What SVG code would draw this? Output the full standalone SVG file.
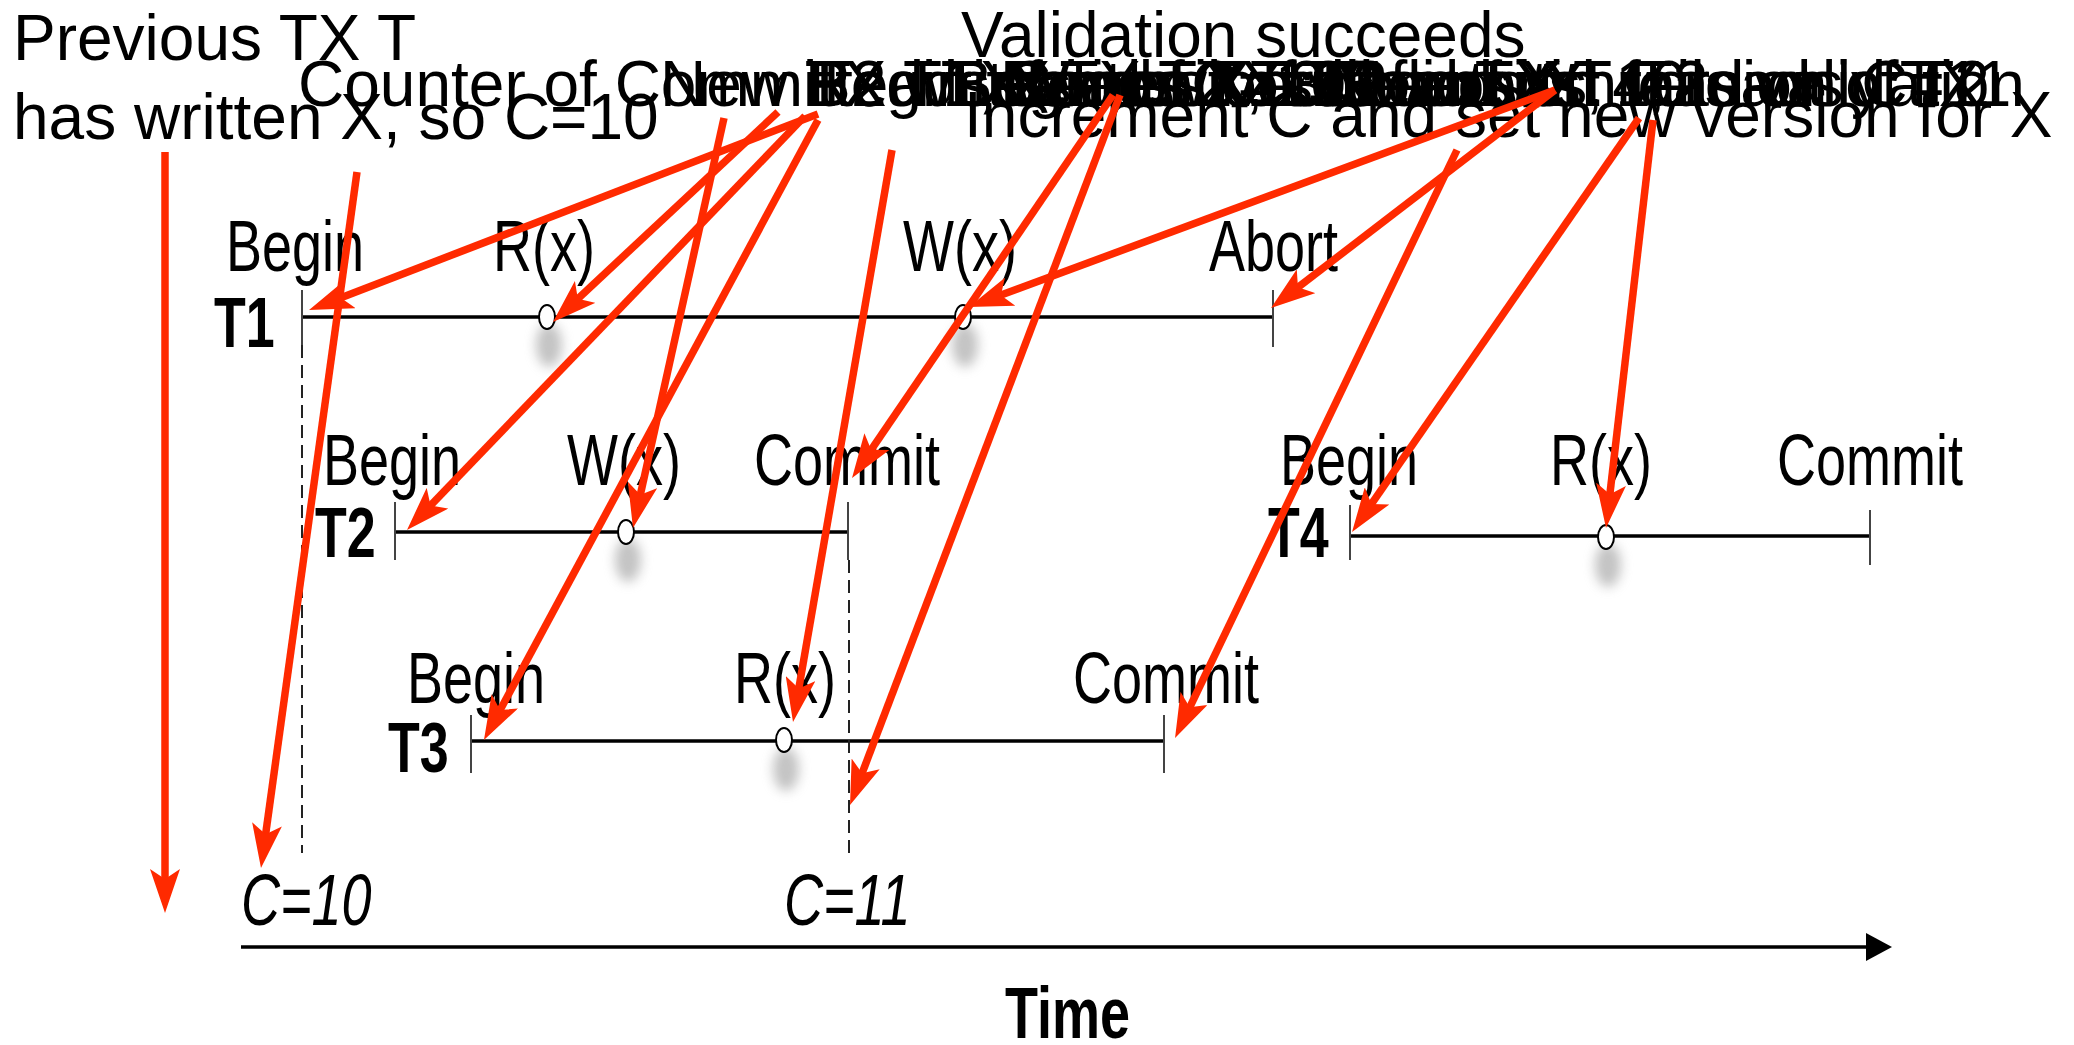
<svg xmlns="http://www.w3.org/2000/svg" width="2074" height="1045" viewBox="0 0 2074 1045">
  <style>
    .note { font-family: "Liberation Sans", Arial, sans-serif; font-size: 64px; fill: #000; }
    .lbl { font-family: "Liberation Sans", Arial, sans-serif; font-size: 54px; fill: #000; }
    .tx { font-family: "Liberation Sans", Arial, sans-serif; font-size: 52px; font-weight: bold; fill: #000; }
    .cnt { font-family: "Liberation Sans", Arial, sans-serif; font-size: 54px; font-style: italic; fill: #000; }
    .axis { font-family: "Liberation Sans", Arial, sans-serif; font-size: 54px; font-weight: bold; fill: #000; }
    .life { stroke: #000; stroke-width: 3.5; fill: none; }
    .tick { stroke: #444; stroke-width: 2; fill: none; }
    .dash { stroke: #222; stroke-width: 2; stroke-dasharray: 13 7; fill: none; }
    .op { fill: #fff; stroke: #000; stroke-width: 2; }
    .shadow { fill: #888; opacity: 0.5; filter: url(#soft); }
    .arrow { stroke: #ff2a00; stroke-width: 7.5; fill: none; marker-end: url(#head); }
  </style>
  <defs>
    <filter id="soft" x="-1" y="-1" width="3" height="3">
      <feGaussianBlur stdDeviation="6"/>
    </filter>
    <marker id="head" viewBox="0 0 44 30" markerUnits="userSpaceOnUse" markerWidth="44" markerHeight="30" refX="30" refY="15" orient="auto">
      <path d="M0,0 L44,15 L0,30 L10,15 Z" fill="#ff2a00"/>
    </marker>
  </defs>
  <rect width="2074" height="1045" fill="#fff"/>

  <!-- transaction T1 -->
  <g id="t1">
    <line class="life" x1="302" y1="317" x2="1273" y2="317"/>
    <line class="tick" x1="302" y1="290" x2="302" y2="345"/>
    <line class="tick" x1="1273" y1="290" x2="1273" y2="347"/>
    <text class="tx" transform="translate(214 347) scale(1 1.35)">T1</text>
    <text class="lbl" transform="translate(226 271) scale(1 1.35)">Begin</text>
    <text class="lbl" transform="translate(493 271) scale(1 1.35)">R(x)</text>
    <text class="lbl" transform="translate(903 271) scale(1 1.35)">W(x)</text>
    <text class="lbl" transform="translate(1209 271) scale(1 1.35)">Abort</text>
    <ellipse class="shadow" cx="549" cy="345" rx="13" ry="22"/>
    <ellipse class="op" cx="547" cy="317" rx="8" ry="12"/>
    <ellipse class="shadow" cx="965" cy="345" rx="13" ry="22"/>
    <ellipse class="op" cx="963" cy="317" rx="8" ry="12"/>
  </g>

  <!-- transaction T2 -->
  <g id="t2">
    <line class="life" x1="395" y1="532" x2="848" y2="532"/>
    <line class="tick" x1="395" y1="502" x2="395" y2="560"/>
    <line class="tick" x1="848" y1="502" x2="848" y2="560"/>
    <text class="tx" transform="translate(315 557) scale(1 1.35)">T2</text>
    <text class="lbl" transform="translate(323 485) scale(1 1.35)">Begin</text>
    <text class="lbl" transform="translate(567 485) scale(1 1.35)">W(x)</text>
    <text class="lbl" transform="translate(754 485) scale(1 1.35)">Commit</text>
    <ellipse class="shadow" cx="628" cy="560" rx="13" ry="22"/>
    <ellipse class="op" cx="626" cy="532" rx="8" ry="12"/>
  </g>

  <!-- transaction T3 -->
  <g id="t3">
    <line class="life" x1="471" y1="741" x2="1164" y2="741"/>
    <line class="tick" x1="471" y1="715" x2="471" y2="773"/>
    <line class="tick" x1="1164" y1="715" x2="1164" y2="773"/>
    <text class="tx" transform="translate(388 772) scale(1 1.35)">T3</text>
    <text class="lbl" transform="translate(407 703) scale(1 1.35)">Begin</text>
    <text class="lbl" transform="translate(734 703) scale(1 1.35)">R(x)</text>
    <text class="lbl" transform="translate(1073 703) scale(1 1.35)">Commit</text>
    <ellipse class="shadow" cx="786" cy="769" rx="13" ry="22"/>
    <ellipse class="op" cx="784" cy="740" rx="8" ry="12"/>
  </g>

  <!-- transaction T4 -->
  <g id="t4">
    <line class="life" x1="1350" y1="536" x2="1870" y2="536"/>
    <line class="tick" x1="1350" y1="505" x2="1350" y2="560"/>
    <line class="tick" x1="1870" y1="510" x2="1870" y2="565"/>
    <text class="tx" transform="translate(1268 557) scale(1 1.35)">T4</text>
    <text class="lbl" transform="translate(1280 485) scale(1 1.35)">Begin</text>
    <text class="lbl" transform="translate(1550 485) scale(1 1.35)">R(x)</text>
    <text class="lbl" transform="translate(1777 485) scale(1 1.35)">Commit</text>
    <ellipse class="shadow" cx="1608" cy="565" rx="13" ry="22"/>
    <ellipse class="op" cx="1606" cy="537" rx="8" ry="12"/>
  </g>

  <!-- commit counter marks -->
  <g id="counter10">
    <line class="dash" x1="302" y1="345" x2="302" y2="853"/>
    <text class="cnt" transform="translate(241 925) scale(1 1.35)">C=10</text>
  </g>
  <g id="counter11">
    <line class="dash" x1="849" y1="560" x2="849" y2="853"/>
    <text class="cnt" transform="translate(784 925) scale(1 1.35)">C=11</text>
  </g>

  <!-- time axis -->
  <g id="time">
    <line x1="241" y1="947" x2="1870" y2="947" stroke="#000" stroke-width="3.5"/>
    <path d="M1866,933 L1892,947 L1866,961 Z" fill="#000"/>
    <text class="axis" transform="translate(1005 1038) scale(1 1.35)">Time</text>
  </g>

  <!-- annotation notes -->
  <g id="note-previous">
    <text class="note" x="13" y="60">Previous TX T</text>
    <text class="note" x="13" y="139">has written X, so C=10</text>
  </g>
  <g id="note-validation">
    <text class="note" x="961" y="57">Validation succeeds</text>
    <text class="note" x="964" y="137">Increment C and set new version for X</text>
  </g>
  <g id="note-row">
    <text class="note" x="298" y="106">Counter of Committed TXs</text>
    <text class="note" x="660" y="106">New TX T1, reads C=10</text>
    <text class="note" x="805" y="106">Reads X, version 10</text>
    <text class="note" x="808" y="106">Begin of TX T2</text>
    <text class="note" x="812" y="106">T2 writes new version of X</text>
    <text class="note" x="950" y="106">Begin of TX T3</text>
    <text class="note" x="1000" y="106">Reads X, still version 10</text>
    <text class="note" x="1005" y="106">Commit of T2</text>
    <text class="note" x="1010" y="106">Writes X: conflict with T2</text>
    <text class="note" x="1250" y="106">T3 commits: read-only TX</text>
    <text class="note" x="1317" y="106">T1 aborts: fails validation</text>
    <text class="note" x="1330" y="106">New TX T4, reads C=11</text>
    <text class="note" x="1340" y="106">Reads X, version of T2</text>
  </g>

  <!-- annotation arrows -->
  <g id="connectors">
    <line class="arrow" x1="165" y1="152" x2="165" y2="899"/>
    <line class="arrow" x1="357" y1="172" x2="262.9" y2="854.1"/>
    <line class="arrow" x1="818" y1="114" x2="322.1" y2="305"/>
    <line class="arrow" x1="778" y1="112" x2="563.2" y2="312.4"/>
    <line class="arrow" x1="805" y1="116" x2="416.7" y2="519.9"/>
    <line class="arrow" x1="724" y1="118" x2="636" y2="514.3"/>
    <line class="arrow" x1="818" y1="120" x2="490.6" y2="727.7"/>
    <line class="arrow" x1="892" y1="150" x2="795.4" y2="708.2"/>
    <line class="arrow" x1="1113" y1="95" x2="859.9" y2="466.4"/>
    <line class="arrow" x1="1120" y1="95" x2="855" y2="791.9"/>
    <line class="arrow" x1="1555" y1="90" x2="982.1" y2="302.1"/>
    <line class="arrow" x1="1555" y1="90" x2="1282.1" y2="299.5"/>
    <line class="arrow" x1="1639" y1="118" x2="1360" y2="520.5"/>
    <line class="arrow" x1="1653" y1="120" x2="1607.6" y2="514.1"/>
    <line class="arrow" x1="1457" y1="150" x2="1181.1" y2="725.4"/>
  </g>
</svg>
